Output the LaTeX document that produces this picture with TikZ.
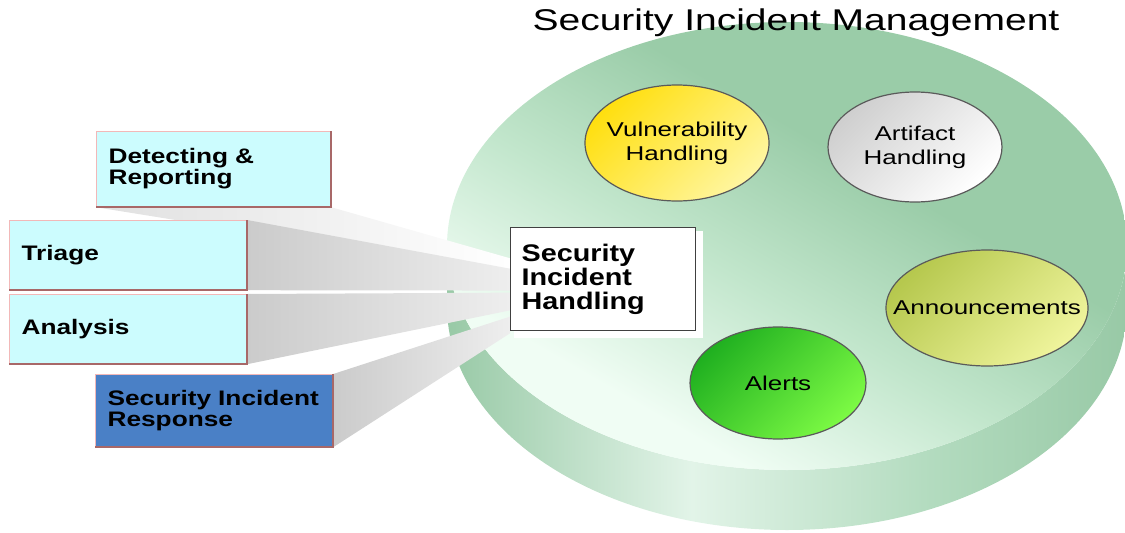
\documentclass[tikz,border=0pt]{standalone}
\usepackage{fontspec}
\setmainfont{Liberation Sans}
\newfontfamily\wideR[FakeStretch=1.3]{Liberation Sans}
\newfontfamily\wideB[FakeStretch=1.25]{Liberation Sans}
\newfontfamily\wideC[FakeStretch=1.2]{Liberation Sans}
\usetikzlibrary{shapes.geometric,calc,backgrounds}
\definecolor{diskG}{HTML}{98C9A6}
\definecolor{diskM}{HTML}{B4DCC0}
\definecolor{diskL}{HTML}{E2F4E8}
\definecolor{topG}{HTML}{9ACCA8}
\definecolor{topM}{HTML}{C2E6CC}
\definecolor{topL}{HTML}{F0FDF4}
\definecolor{cyanbox}{HTML}{CCFCFE}
\definecolor{boxrim}{HTML}{F2B8B8}
\definecolor{boxshadow}{HTML}{A86868}
\definecolor{sirblue}{HTML}{4A80C6}
\definecolor{beamD}{HTML}{CBCBCB}
\definecolor{beamL}{HTML}{EEEEEE}
\definecolor{ellrim}{HTML}{5A5A5A}
\definecolor{yelA}{HTML}{FFDF10}
\definecolor{yelB}{HTML}{FFF6A0}
\definecolor{artA}{HTML}{CFCFCF}
\definecolor{artB}{HTML}{FFFFFF}
\definecolor{annA}{HTML}{B6C84E}
\definecolor{annB}{HTML}{EFF49C}
\definecolor{alrA}{HTML}{20B020}
\definecolor{alrB}{HTML}{7CFA44}
\pgfdeclarehorizontalshading{sideshade}{100bp}{color(0bp)=(diskG); color(25bp)=(diskG); color(43bp)=(diskL); color(60bp)=(diskM); color(75bp)=(diskG); color(100bp)=(diskG)}
\pgfdeclareverticalshading{topshade}{100bp}{color(0bp)=(topL); color(30bp)=(topL); color(45bp)=(topM); color(60bp)=(topG); color(75bp)=(topG); color(100bp)=(topG)}
\tikzset{
  cyanbox/.style={draw=boxrim, line width=1.2pt, fill=cyanbox, anchor=north west,
    inner xsep=12pt, inner ysep=0pt, align=left,
    font=\wideB\bfseries\fontsize{21}{21}\selectfont},
  bluebox/.style={cyanbox, fill=sirblue},
  boxsh/.style={draw=boxshadow, line width=2pt},
  sihbox/.style={draw=black!75, line width=1.2pt, fill=white, anchor=north west,
    inner xsep=11pt, inner ysep=0pt, align=left, minimum height=103pt, text width=163pt,
    font=\wideC\bfseries\fontsize{24}{24}\selectfont},
  bubble/.style={ellipse, draw=ellrim, line width=1.2pt, inner sep=0pt},
  bubtext/.style={align=center, inner sep=0pt, font=\wideR\fontsize{20}{24}\selectfont},
  beam/.style={left color=beamD, right color=beamL},
  titlestyle/.style={font=\wideR\fontsize{30}{30}\selectfont}
}
\begin{document}
\begin{tikzpicture}[x=1pt,y=-1pt]
\useasboundingbox (0,0) rectangle (1125,533);
% nodes
\node[cyanbox, minimum height=75pt, text width=210pt] (det) at (96,131) {Detecting \&\\Reporting};
\node[cyanbox, minimum height=69pt, text width=213pt] (tri) at (9,220) {Triage};
\node[cyanbox, minimum height=69pt, text width=213pt] (ana) at (9,294) {Analysis};
\node[bluebox, minimum height=72pt, text width=213pt] (sir) at (95,374) {Security Incident\\Response};
\draw[boxsh] (det.south west) -- (det.south east) -- (det.north east);
\draw[boxsh] (tri.south west) -- (tri.south east) -- (tri.north east);
\draw[boxsh] (ana.south west) -- (ana.south east) -- (ana.north east);
\draw[boxsh] (sir.south west) -- (sir.south east) -- (sir.north east);
\fill[white] (514,231) rectangle (703,338);
\node[sihbox] (sih) at (510,227) {Security\\Incident\\Handling};
\node[bubble, top color=yelA, bottom color=yelB, shading angle=45, minimum width=184pt, minimum height=116pt] (vul) at (677,143) {};
\node[bubtext] (vult) at (vul) {Vulnerability\\Handling};
\node[bubble, top color=artA, bottom color=artB, shading angle=45, minimum width=174pt, minimum height=110pt] (art) at (915,147) {};
\node[bubtext] (artt) at (art) {Artifact\\Handling};
\node[bubble, top color=annA, bottom color=annB, shading angle=45, minimum width=202pt, minimum height=116pt] (ann) at (987,308) {};
\node[bubtext] (annt) at (ann) {Announcements};
\node[bubble, top color=alrA, bottom color=alrB, shading angle=45, minimum width=176pt, minimum height=112pt] (alr) at (778,383) {};
\node[bubtext] (alrt) at (alr) {Alerts};
\node[titlestyle] (title) at (796,23) {Security Incident Management};
\begin{pgfonlayer}{background}
  % disk side and top
  \shade[shading=sideshade] (447,246) -- (447,306) arc[start angle=180, end angle=0, x radius=340, y radius=224]
     -- (1127,246) arc[start angle=0, end angle=180, x radius=340, y radius=224] -- cycle;
  \shade[shading=topshade, shading angle=-30] (787,246) ellipse[x radius=340, y radius=224];
  % beams
  \coordinate (d1) at ($(sih.north west)!0.30!(sih.south west)$);
  \coordinate (d2) at ($(sih.north west)!0.45!(sih.south west)$);
  \coordinate (t1) at ($(sih.north west)!0.40!(sih.south west)$);
  \coordinate (t2) at ($(sih.north west)!0.61!(sih.south west)$);
  \coordinate (a1) at ($(sih.north west)!0.63!(sih.south west)$);
  \coordinate (a2) at ($(sih.north west)!0.80!(sih.south west)$);
  \coordinate (s1) at ($(sih.north west)!0.86!(sih.south west)$);
  \coordinate (s2) at ($(sih.north west)!1.02!(sih.south west)$);
  \path[beam, left color=beamL!60!beamD, right color=white] (det.south east) -- (d1) -- (d2) -- (det.south west) -- cycle;
  \path[beam] (tri.north east) -- (t1) -- (t2) -- (tri.south east) -- cycle;
  \path[beam] (ana.north east) -- (a1) -- (a2) -- (ana.south east) -- cycle;
  \path[beam] (sir.north east) -- (s1) -- (s2) -- (sir.south east) -- cycle;
\end{pgfonlayer}
\end{tikzpicture}
\end{document}
